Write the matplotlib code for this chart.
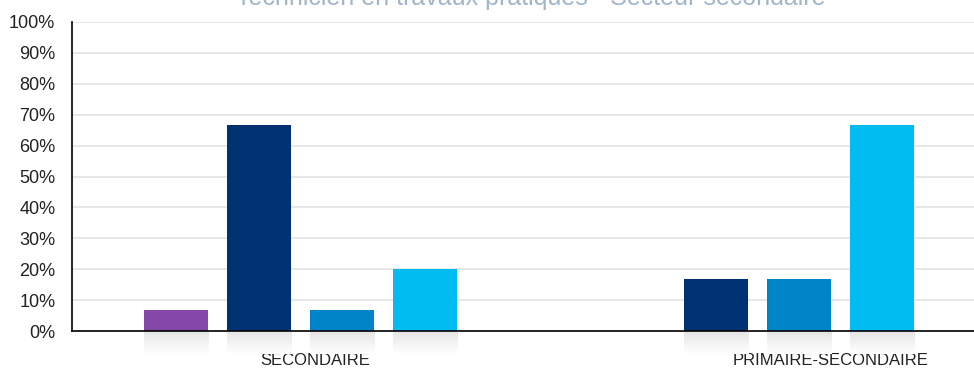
import numpy as np
import matplotlib.pyplot as plt
from matplotlib.ticker import MultipleLocator, FuncFormatter

# Data (shares per category)
categories = ['SECONDAIRE', 'PRIMAIRE-SECONDAIRE']
series_a = [6.67, 0.0]      # purple
series_b = [66.67, 16.67]   # navy
series_c = [6.67, 16.67]    # blue
series_d = [20.0, 66.67]    # cyan
title = 'Technicien en travaux pratiques - Secteur secondaire'

colors = ['#8548a8', '#003172', '#0084c9', '#00bcf0']
series = [series_a, series_b, series_c, series_d]

plt.rcParams['font.family'] = ['Liberation Sans', 'DejaVu Sans']

fig = plt.figure(figsize=(9.74, 3.71), dpi=100)
ax = fig.add_axes([72 / 974, 1 - 331 / 371, 914 / 974, 309 / 371])

x = np.arange(len(categories))
step = 0.1816
width = 0.142

# faint reflection under each bar: light grey fading to white
fade = np.linspace(0.0, 1.0, 60)
refl = np.ones((60, 1, 4))
refl[:, 0, :3] = 0.88 + 0.12 * fade[:, None] ** 0.8
for i, (vals, col) in enumerate(zip(series, colors)):
    pos = x + (i - 1.5) * step
    ax.bar(pos, vals, width=width, color=col, zorder=3)
    for p, v in zip(pos, vals):
        if v <= 0:
            continue
        ax.imshow(refl, aspect='auto', extent=(p - width / 2, p + width / 2, -7.5, 0),
                  zorder=1, clip_on=False, interpolation='bilinear')

ax.set_xlim(-0.5, 1.5)
ax.set_ylim(0, 100)
ax.yaxis.set_major_locator(MultipleLocator(10))
ax.yaxis.set_major_formatter(FuncFormatter(lambda v, _: f'{v:.0f}%'))
ax.grid(axis='y', color='#e3e3e3', linewidth=1.2, zorder=0)
ax.set_axisbelow(True)

ax.set_xticks([0.032, 1.159])
ax.set_xticklabels(categories, fontsize=12, color='#222222')
ax.tick_params(axis='x', length=0, pad=16)
ax.tick_params(axis='y', length=0, pad=12, labelsize=13, labelcolor='#222222')

for s in ['top', 'right']:
    ax.spines[s].set_visible(False)
ax.spines['left'].set_linewidth(1.2)
ax.spines['bottom'].set_linewidth(1.2)
ax.spines['bottom'].set_zorder(4)

fig.text(531 / 974, 1 - 5.5 / 371, title, ha='center', va='baseline',
         fontsize=18, color='#a3b5c9')

fig.savefig('out.png', dpi=100)
